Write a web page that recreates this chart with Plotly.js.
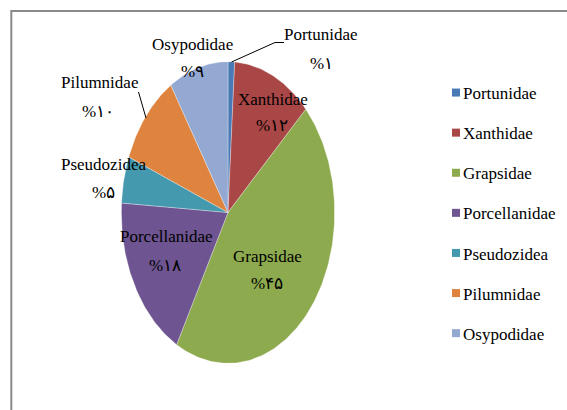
<!DOCTYPE html>
<html>
<head>
<meta charset="utf-8">
<script src="https://cdn.plot.ly/plotly-3.0.1.min.js"></script>
<style>
  html, body { margin: 0; padding: 0; background: #ffffff; }
  #chart { width: 567px; height: 410px; }
</style>
</head>
<body>
<div id="chart"></div>
<script>
// ---- data ----
const categories = ['Portunidae', 'Xanthidae', 'Grapsidae', 'Porcellanidae', 'Pseudozidea', 'Pilumnidae', 'Osypodidae'];
const values = [1, 12, 45, 18, 5, 10, 9];
const pctLabels = ['%۱', '%۱۲', '%۴۵', '%۱۸', '%۵', '%۱۰', '%۹'];

// ---- styles / layout helpers ----
const colors = ['#4a7ab5', '#a94747', '#8daa4f', '#6e5591', '#4599af', '#de843f', '#93a9d2'];
const W = 567, H = 410;
const px = x => x / W;
const py = y => 1 - y / H;
const FONT = '"Liberation Serif", "Times New Roman", "DejaVu Serif", serif';

// pie geometry (pixels): ellipse centre and radii
const CX = 228, CY = 212.5, RX = 106.7, RY = 150.8;

// label centres (pixels) for name and percentage
const namePos = [[321, 35], [273, 99], [267, 256], [166, 237], [103, 164], [99, 83], [192, 45]];
const pctPos  = [[321, 63], [272, 125], [267, 283], [165, 265], [103, 192], [98, 111], [192, 72]];

const total = values.reduce((a, b) => a + b, 0);
const traces = [];
let acc = 0;
values.forEach((v, i) => {
  const a0 = acc / total * 2 * Math.PI;
  acc += v;
  const a1 = acc / total * 2 * Math.PI;
  const xs = [0], ys = [0];
  const n = Math.max(2, Math.ceil((a1 - a0) / (Math.PI / 180)));
  for (let k = 0; k <= n; k++) {
    const a = a0 + (a1 - a0) * k / n;
    xs.push(Math.sin(a));
    ys.push(Math.cos(a));
  }
  xs.push(0); ys.push(0);
  traces.push({
    type: 'scatter', mode: 'lines', x: xs, y: ys,
    fill: 'toself', fillcolor: colors[i],
    line: { color: 'rgba(255,255,255,0.45)', width: 0.7 },
    name: categories[i], legendgroup: categories[i],
    showlegend: false, hoverinfo: 'skip'
  });
});
categories.forEach((c, i) => {
  traces.push({
    type: 'scatter', mode: 'markers', x: [null], y: [null],
    marker: { symbol: 'square', size: 8, color: colors[i] },
    name: c, legendgroup: c, showlegend: true
  });
});

const annotations = [];
categories.forEach((c, i) => {
  annotations.push({
    xref: 'paper', yref: 'paper', x: px(namePos[i][0]), y: py(namePos[i][1]),
    xanchor: 'center', yanchor: 'middle', showarrow: false,
    text: c, font: { family: FONT, size: 17, color: '#000000' }
  });
  annotations.push({
    xref: 'paper', yref: 'paper', x: px(pctPos[i][0]), y: py(pctPos[i][1]),
    xanchor: 'center', yanchor: 'middle', showarrow: false,
    text: pctLabels[i], font: { family: FONT, size: 17, color: '#000000' }
  });
});

const shapes = [
  // outer frame (left and top edges)
  { type: 'path', xref: 'paper', yref: 'paper',
    path: `M ${px(11.3)},${py(412)} L ${px(11.3)},${py(11)} L ${px(569)},${py(11)}`,
    line: { color: '#8a8a8a', width: 2 } },
  // Portunidae leader line
  { type: 'path', xref: 'paper', yref: 'paper',
    path: `M ${px(231.5)},${py(62)} L ${px(275)},${py(42.5)} L ${px(284)},${py(42.5)}`,
    line: { color: '#000000', width: 1 } },
  // Pilumnidae leader line
  { type: 'path', xref: 'paper', yref: 'paper',
    path: `M ${px(138.5)},${py(92)} L ${px(146)},${py(118)}`,
    line: { color: '#000000', width: 1 } }
];

const layout = {
  width: W, height: H,
  margin: { l: 0, r: 0, t: 0, b: 0 },
  paper_bgcolor: '#ffffff', plot_bgcolor: 'rgba(0,0,0,0)',
  showlegend: true,
  xaxis: { domain: [px(CX - RX), px(CX + RX)], range: [-1, 1], visible: false, fixedrange: true },
  yaxis: { domain: [py(CY + RY), py(CY - RY)], range: [-1, 1], visible: false, fixedrange: true },
  legend: {
    x: px(423), y: py(75), xanchor: 'left', yanchor: 'top',
    font: { family: FONT, size: 17, color: '#000000' },
    bgcolor: 'rgba(0,0,0,0)', traceorder: 'grouped', tracegroupgap: 15,
    itemclick: false, itemdoubleclick: false
  },
  annotations: annotations,
  shapes: shapes
};

Plotly.newPlot('chart', traces, layout, { displayModeBar: false, staticPlot: true }).then(gd => {
  // nudge legend swatches closer to their labels, as in the reference
  gd.querySelectorAll('.legend .legendpoints').forEach(el => {
    const t = el.getAttribute('transform') || '';
    el.setAttribute('transform', t + ' translate(13,0)');
  });
});
</script>
</body>
</html>
